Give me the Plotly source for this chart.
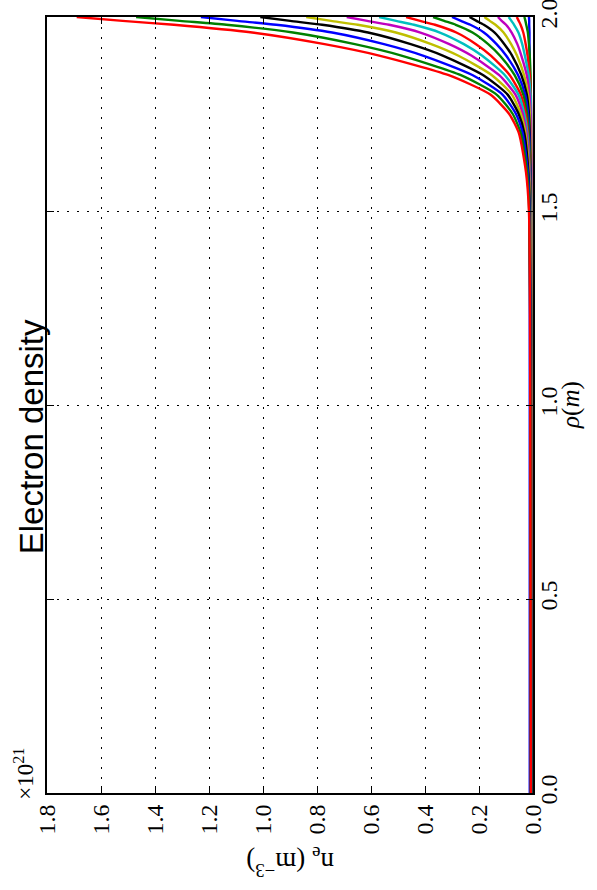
import plotly.graph_objects as go

# rho grid (m)
rho = [0.0, 1.0, 1.5, 1.6, 1.7, 1.75, 1.8, 1.85, 1.9, 1.93, 1.96, 1.98, 1.99, 2.0]

# electron density profiles (units of 1e21 m^-3)
ne_01 = [0.012, 0.012, 0.012, 0.012, 0.012, 0.012, 0.012, 0.012, 0.012, 0.013, 0.013, 0.014, 0.014, 0.015]
ne_02 = [0.008, 0.008, 0.008, 0.008, 0.008, 0.008, 0.008, 0.009, 0.012, 0.015, 0.019, 0.025, 0.028, 0.032]
ne_03 = [0.006, 0.006, 0.006, 0.006, 0.006, 0.007, 0.008, 0.012, 0.020, 0.027, 0.036, 0.046, 0.053, 0.060]
ne_04 = [0.006, 0.006, 0.006, 0.007, 0.007, 0.007, 0.009, 0.016, 0.030, 0.040, 0.054, 0.070, 0.080, 0.090]
ne_05 = [0.006, 0.006, 0.007, 0.007, 0.008, 0.009, 0.013, 0.023, 0.043, 0.058, 0.079, 0.100, 0.116, 0.130]
ne_06 = [0.006, 0.006, 0.007, 0.008, 0.010, 0.012, 0.018, 0.033, 0.059, 0.081, 0.109, 0.139, 0.160, 0.180]
ne_07 = [0.006, 0.007, 0.008, 0.009, 0.012, 0.015, 0.023, 0.043, 0.077, 0.106, 0.142, 0.182, 0.209, 0.235]
ne_08 = [0.006, 0.007, 0.009, 0.010, 0.014, 0.018, 0.029, 0.055, 0.099, 0.135, 0.182, 0.232, 0.267, 0.300]
ne_09 = [0.006, 0.007, 0.009, 0.011, 0.016, 0.022, 0.036, 0.068, 0.122, 0.166, 0.224, 0.286, 0.329, 0.370]
ne_10 = [0.006, 0.007, 0.010, 0.012, 0.019, 0.027, 0.045, 0.086, 0.155, 0.211, 0.284, 0.363, 0.418, 0.470]
ne_11 = [0.006, 0.007, 0.010, 0.013, 0.021, 0.032, 0.054, 0.104, 0.188, 0.256, 0.345, 0.441, 0.507, 0.570]
ne_12 = [0.006, 0.007, 0.011, 0.014, 0.024, 0.038, 0.065, 0.125, 0.227, 0.310, 0.417, 0.533, 0.614, 0.690]
ne_13 = [0.006, 0.007, 0.011, 0.015, 0.028, 0.045, 0.078, 0.152, 0.276, 0.377, 0.508, 0.649, 0.748, 0.840]
ne_14 = [0.006, 0.008, 0.012, 0.017, 0.032, 0.053, 0.094, 0.184, 0.332, 0.453, 0.611, 0.781, 0.899, 1.010]
ne_15 = [0.007, 0.008, 0.013, 0.019, 0.038, 0.063, 0.113, 0.223, 0.405, 0.552, 0.744, 0.951, 1.095, 1.230]
ne_16 = [0.007, 0.009, 0.014, 0.022, 0.045, 0.075, 0.135, 0.267, 0.484, 0.660, 0.889, 1.136, 1.308, 1.470]
ne_17 = [0.008, 0.010, 0.015, 0.026, 0.052, 0.088, 0.158, 0.312, 0.566, 0.772, 1.040, 1.330, 1.520, 1.690]

profiles = [ne_01, ne_02, ne_03, ne_04, ne_05, ne_06, ne_07, ne_08, ne_09,
            ne_10, ne_11, ne_12, ne_13, ne_14, ne_15, ne_16, ne_17]

ne_ticks = [0.0, 0.2, 0.4, 0.6, 0.8, 1.0, 1.2, 1.4, 1.6, 1.8]
rho_ticks = [0.0, 0.5, 1.0, 1.5, 2.0]

color_cycle = ["#0000ff", "#008000", "#ff0000", "#00bfbf", "#bf00bf", "#bfbf00", "#000000"]

fig = go.Figure()
for i, prof in enumerate(profiles):
    fig.add_trace(go.Scatter(
        x=prof, y=rho, mode="lines",
        line=dict(color=color_cycle[i % len(color_cycle)], width=2.4, shape="spline", smoothing=0.6),
        showlegend=False, hoverinfo="skip"))

serif = "Liberation Serif, DejaVu Serif, serif"
axis_common = dict(
    showline=True, linewidth=2, linecolor="black", mirror="ticks",
    ticks="inside", ticklen=7, tickwidth=1, tickcolor="black",
    showgrid=True, gridcolor="black", gridwidth=1, griddash="2px,8px",
    zeroline=False, tickangle=-90, tickformat=".1f", automargin=False,
    ticklabeloverflow="allow",
    tickfont=dict(family=serif, size=24, color="black"),
)

fig.update_layout(
    width=597, height=890,
    margin=dict(l=47, r=64, t=17, b=97),
    paper_bgcolor="white", plot_bgcolor="white",
    xaxis=dict(range=[1.8, 0.0], tickvals=ne_ticks, **axis_common),
    yaxis=dict(range=[0.0, 2.0], tickvals=rho_ticks, side="right", ticklabelstandoff=-7, **axis_common),
    annotations=[
        dict(text="Electron density", xref="paper", yref="paper", x=-0.032, y=0.459,
             showarrow=False, textangle=-90, xanchor="center", yanchor="middle",
             font=dict(family="Liberation Sans, Arial, sans-serif", size=33, color="black")),
        dict(text="<i>ρ</i>(<i>m</i>)", xref="paper", yref="paper", x=1.078, y=0.5,
             showarrow=False, textangle=-90, xanchor="center", yanchor="middle",
             font=dict(family=serif, size=25, color="black")),
        dict(text="n<sub>e</sub> (m<sup>−3</sup>)", xref="paper", yref="paper", x=0.5, y=-0.089,
             showarrow=False, textangle=180, xanchor="center", yanchor="middle",
             font=dict(family=serif, size=27, color="black")),
        dict(text="×10<sup>21</sup>", xref="paper", yref="paper", x=-0.047, y=0.025,
             showarrow=False, textangle=-90, xanchor="center", yanchor="middle",
             font=dict(family=serif, size=23, color="black")),
    ],
)

fig.write_html("out.html", config={"displayModeBar": False},
               post_script="document.body.style.margin='0';")
